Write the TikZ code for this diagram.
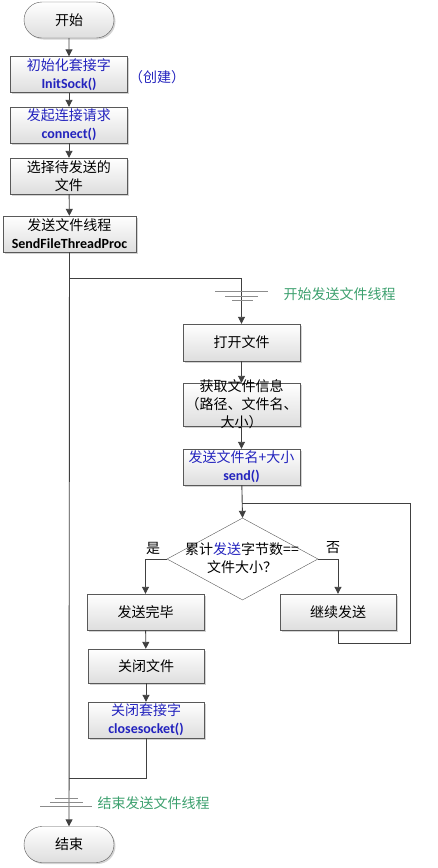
\documentclass[tikz,border=0pt]{standalone}
\usepackage{fontspec}
\setmainfont{Noto Sans CJK SC}
\newfontfamily\codefont{Carlito}
\usetikzlibrary{shapes.geometric,shapes.misc,arrows.meta,shadows}
\definecolor{apiblue}{RGB}{35,35,190}
\definecolor{threadgreen}{RGB}{60,160,110}
\tikzset{
  flow line/.style={draw=black!75,line width=0.9pt},
  flow arrow/.style={flow line,-{Triangle[length=7pt,width=7pt]}},
  proc box/.style={draw=black!65,top color=white,bottom color=black!13,
    minimum width=117,minimum height=36,align=center,inner sep=1pt,
    drop shadow={shadow xshift=1.5pt,shadow yshift=-1.5pt,opacity=0.35},
    font=\fontsize{14}{18}\selectfont},
  term box/.style={proc box,rounded rectangle,minimum width=92},
  decision/.style={diamond,draw=black!65,fill=white,
    minimum width=151,minimum height=82,inner sep=0pt},
  api/.style={text=apiblue},
  thread mark/.style={draw=black!45,line width=1pt},
  thread label/.style={text=threadgreen,font=\fontsize{14}{18}\selectfont},
  side label/.style={font=\fontsize{14}{18}\selectfont}
}
\newcommand{\apicall}[1]{{\codefont\bfseries #1}}

\begin{document}
\begin{tikzpicture}[x=1pt,y=-1pt]
  \useasboundingbox (0,0) rectangle (438,868);

  % main column
  \node[term box] (start) at (69,20) {开始};
  \node[proc box,api] (init) at (69,74.5) {初始化套接字\\\apicall{InitSock()}};
  \node[side label,api] (create) at (157,77) {（创建）};
  \node[proc box,api] (conn) at (69,125) {发起连接请求\\\apicall{connect()}};
  \node[proc box] (pick) at (69,176) {选择待发送的\\文件};
  \node[proc box,minimum width=133] (thread) at (69.5,234)
    {发送文件线程\\\apicall{SendFileThreadProc}};
  \node[term box] (stop) at (69,844.5) {结束};

  % thread column
  \node[proc box,minimum height=37] (open) at (241.5,342.5) {打开文件};
  \node[proc box,minimum height=43,inner ysep=-4pt] (info) at (241.5,404.5)
    {获取文件信息\\（路径、文件名、\\大小）};
  \node[proc box,api] (sendhead) at (241.5,467) {发送文件名+大小\\\apicall{send()}};
  \node[decision] (judge) at (242.5,559) {};
  \node[side label,align=center] (judgetext) at (242,558)
    {累计\textcolor{apiblue}{发送}字节数==\\文件大小？};
  \node[proc box] (done) at (145.5,612) {发送完毕};
  \node[proc box,minimum width=116] (cont) at (338,612) {继续发送};
  \node[proc box,minimum width=116,minimum height=34] (closef) at (146,666) {关闭文件};
  \node[proc box,api,minimum width=116] (closes) at (146,720)
    {关闭套接字\\\apicall{closesocket()}};
  \node[side label] (yes) at (153,548) {是};
  \node[side label] (no) at (333,548) {否};

  \coordinate (fork) at (69,278);
  \coordinate (join) at (241.5,503);
  \coordinate (loopbot) at (410,643);
  \coordinate (looptop) at (410,503);
  \coordinate (merge) at (69,778);

  % connectors
  \draw[flow arrow] (start) -- (init);
  \draw[flow arrow] (init) -- (conn);
  \draw[flow arrow] (conn) -- (pick);
  \draw[flow arrow] (pick) -- (thread);
  \draw[flow arrow] (thread) -- (stop);
  \draw[flow arrow] (fork) -| (open.north);
  \draw[flow arrow] (open) -- (info);
  \draw[flow arrow] (info) -- (sendhead);
  \draw[flow arrow] (sendhead) -- (judge.north);
  \draw[flow line] (cont.south) |- (loopbot) -- (looptop) -- (join);
  \draw[flow arrow] (judge.west) -| (done.north);
  \draw[flow arrow] (judge.east) -| (cont.north);
  \draw[flow arrow] (done) -- (closef);
  \draw[flow arrow] (closef) -- (closes);
  \draw[flow line] (closes.south) |- (merge);

  % thread marks
  \draw[thread mark] (215,291) -- (268,291) (225,296) -- (258,296) (232,300) -- (253,300);
  \node[thread label,anchor=west] (threadstart) at (280,294) {开始发送文件线程};
  \draw[thread mark] (55,798) -- (78,798) (50,802) -- (83,802) (40,806) -- (92,806);
  \node[thread label,anchor=west] (threadend) at (94,803) {结束发送文件线程};
\end{tikzpicture}
\end{document}
